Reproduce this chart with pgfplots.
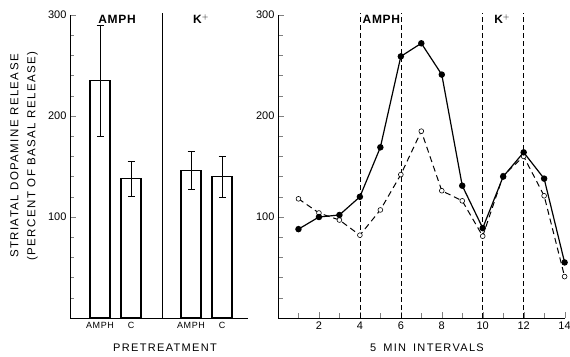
\documentclass[border=0pt]{standalone}
\usepackage{pgfplots}
\pgfplotsset{compat=1.18}
\usepackage{fontspec}
\setmainfont{Liberation Sans}
\newfontfamily\lab{Liberation Sans}[LetterSpace=12]
\newfontfamily\labb{Liberation Sans}[LetterSpace=6]
\begin{document}
\begin{tikzpicture}[x=1pt,y=1pt]
\useasboundingbox (0,0) rectangle (570,356);
% ---------------- left panel ----------------
\begin{axis}[
  at={(70pt,38pt)}, anchor=south west,
  scale only axis, width=178pt, height=303pt,
  xmin=0, xmax=178, ymin=0, ymax=300,
  axis x line=bottom, axis y line=left,
  axis line style={-, line width=0.8pt},
  tick align=inside,
  ytick={100,200,300}, minor ytick={20,40,60,80,120,140,160,180,220,240,260,280},
  major tick length=6pt, minor tick length=4pt,
  xtick={30,61,121,152}, xticklabels={AMPH,C,AMPH,C},
  x tick style={draw=none},
  x tick label style={font=\labb\fontsize{9}{11}\selectfont, yshift=-1pt},
  y tick label style={font=\fontsize{11}{13}\selectfont},
  /pgf/number format/assume math mode=true,
  clip=false,
]
\addplot[ybar, bar width=20, draw=black, fill=white, line width=1.3pt,
  error bars/.cd, y dir=both, y explicit,
  error bar style={line width=0.5pt}, error mark options={rotate=90, mark size=3.5pt, line width=0.5pt}]
  coordinates {(30,235) +- (0,55) (61,138) +- (0,17) (121,146) +- (0,19) (152,140) +- (0,20)};
\draw[line width=0.6pt] (axis cs:92,0) -- (axis cs:92,302);
\node[font=\labb\fontsize{12}{14}\selectfont\bfseries] at (axis cs:47,296) {AMPH};
\node[font=\labb\fontsize{12}{14}\selectfont\bfseries] at (axis cs:131,296) {K$^{\scriptstyle+}$};
\end{axis}
% ---------------- right panel ----------------
\begin{axis}[
  at={(278pt,38pt)}, anchor=south west,
  scale only axis, width=286.6pt, height=303pt,
  xmin=0, xmax=14, ymin=0, ymax=300,
  axis x line=bottom, axis y line=left,
  axis line style={-, line width=0.8pt},
  tick align=inside,
  ytick={100,200,300}, minor ytick={20,40,60,80,120,140,160,180,220,240,260,280},
  xtick={2,4,...,14}, minor xtick={1,3,...,13},
  major tick length=6pt, minor tick length=5pt,
  tick label style={font=\fontsize{11}{13}\selectfont},
  /pgf/number format/assume math mode=true,
  clip=false,
]
\draw[dash pattern=on 5pt off 3pt, line width=0.6pt] (axis cs:4,0) -- (axis cs:4,302);
\draw[dash pattern=on 5pt off 3pt, line width=0.6pt] (axis cs:6,0) -- (axis cs:6,302);
\draw[dash pattern=on 5pt off 3pt, line width=0.6pt] (axis cs:10,0) -- (axis cs:10,302);
\draw[dash pattern=on 5pt off 3pt, line width=0.6pt] (axis cs:12,0) -- (axis cs:12,302);
\addplot[black, dash pattern=on 6pt off 4pt, line width=1pt, mark=*, mark options={solid, fill=white, line width=0.6pt}, mark size=2.4pt]
  coordinates {(1,118) (2,104) (3,97) (4,82) (5,107) (6,142) (7,185) (8,126) (9,116) (10,81) (11,141) (12,160) (13,121) (14,41)};
\addplot[black, solid, line width=1.2pt, mark=*, mark options={fill=black}, mark size=2.6pt]
  coordinates {(1,88) (2,100) (3,102) (4,120) (5,169) (6,259) (7,272) (8,241) (9,131) (10,89) (11,140) (12,164) (13,138) (14,55)};
\node[font=\labb\fontsize{12}{14}\selectfont\bfseries] at (axis cs:5.05,296) {AMPH};
\node[font=\labb\fontsize{12}{14}\selectfont\bfseries] at (axis cs:10.95,296) {K$^{\scriptstyle+}$};
\end{axis}
% ---------------- axis titles ----------------
\node[rotate=90, align=center, font=\lab\fontsize{11.5}{13}\selectfont, inner sep=0pt] at (24,200)
  {STRIATAL DOPAMINE RELEASE\\[4pt](PERCENT OF BASAL RELEASE)};
\node[font=\lab\fontsize{11}{13}\selectfont] at (165,8) {PRETREATMENT};
\node[font=\lab\fontsize{11}{13}\selectfont] at (427,8) {5\hspace{7pt}MIN\hspace{7pt}INTERVALS};
\end{tikzpicture}
\end{document}
